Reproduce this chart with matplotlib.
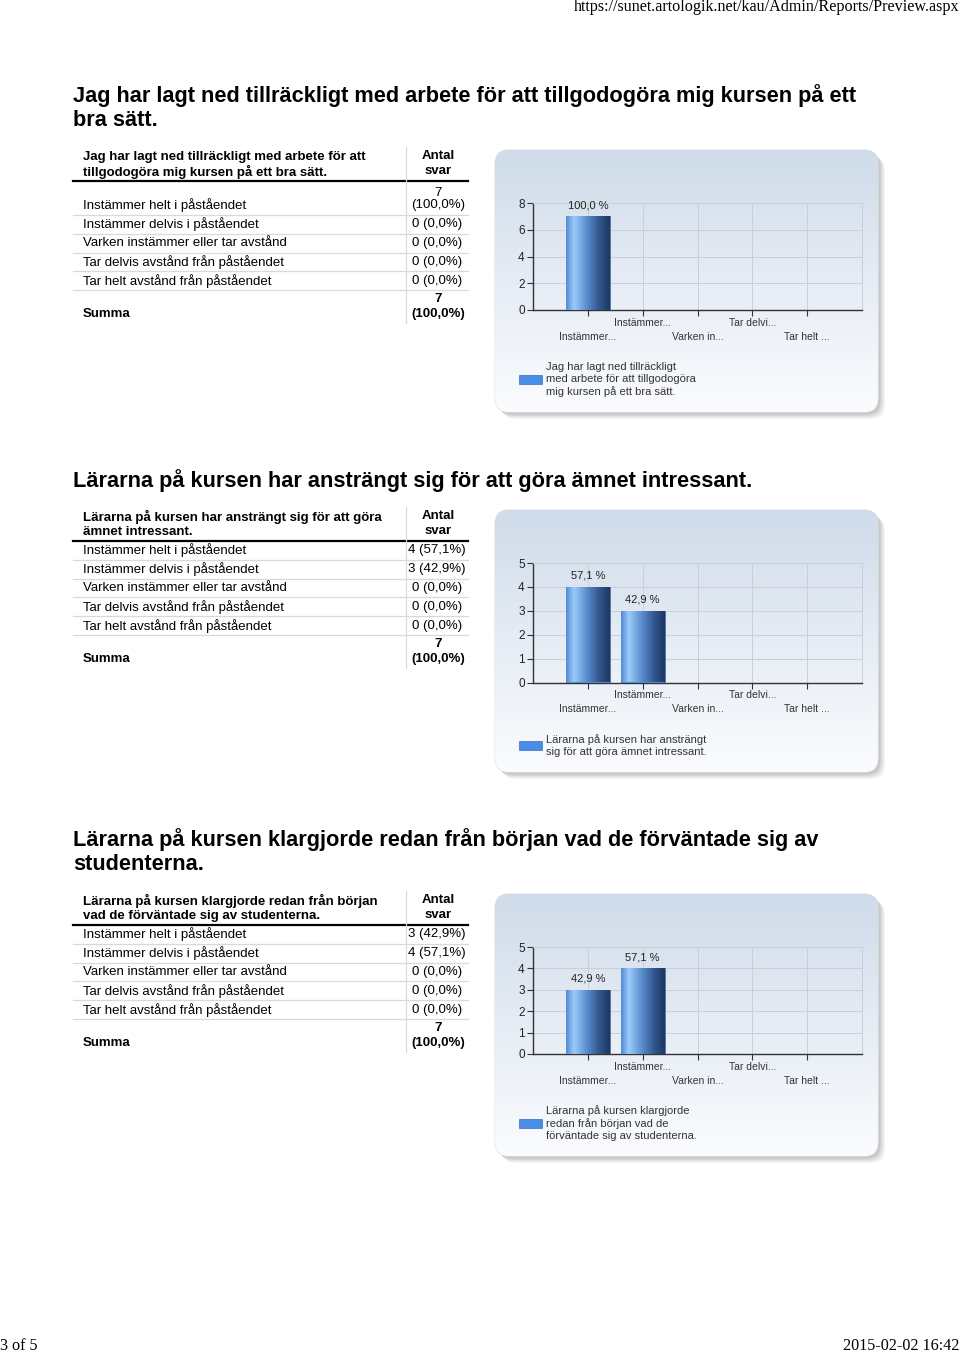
import numpy as np
import matplotlib
matplotlib.use("Agg")
import matplotlib.pyplot as plt
from matplotlib.patches import FancyBboxPatch, Rectangle
from matplotlib.colors import LinearSegmentedColormap

# ---------------- data ----------------
categories = ["Instämmer helt i påståendet",
              "Instämmer delvis i påståendet",
              "Varken instämmer eller tar avstånd",
              "Tar delvis avstånd från påståendet",
              "Tar helt avstånd från påståendet"]
short_labels = ["Instämmer...", "Instämmer...", "Varken in...", "Tar delvi...", "Tar helt ..."]

q1_title = ["Jag har lagt ned tillräckligt med arbete för att tillgodogöra mig kursen på ett",
            "bra sätt."]
q1_header = ["Jag har lagt ned tillräckligt med arbete för att",
             "tillgodogöra mig kursen på ett bra sätt."]
q1_legend = ["Jag har lagt ned tillräckligt", "med arbete för att tillgodogöra",
             "mig kursen på ett bra sätt."]
q1_counts = [7, 0, 0, 0, 0]
q1_yticks = [0, 2, 4, 6, 8]

q2_title = ["Lärarna på kursen har ansträngt sig för att göra ämnet intressant."]
q2_header = ["Lärarna på kursen har ansträngt sig för att göra",
             "ämnet intressant."]
q2_legend = ["Lärarna på kursen har ansträngt", "sig för att göra ämnet intressant."]
q2_counts = [4, 3, 0, 0, 0]
q2_yticks = [0, 1, 2, 3, 4, 5]

q3_title = ["Lärarna på kursen klargjorde redan från början vad de förväntade sig av",
            "studenterna."]
q3_header = ["Lärarna på kursen klargjorde redan från början",
             "vad de förväntade sig av studenterna."]
q3_legend = ["Lärarna på kursen klargjorde", "redan från början vad de",
             "förväntade sig av studenterna."]
q3_counts = [3, 4, 0, 0, 0]
q3_yticks = [0, 1, 2, 3, 4, 5]

col_header = ["Antal", "svar"]
summa_label = "Summa"
url_text = "https://sunet.artologik.net/kau/Admin/Reports/Preview.aspx"
page_text = "3 of 5"
date_text = "2015-02-02 16:42"

# ---------------- figure ----------------
W, H = 960, 1354
fig = plt.figure(figsize=(W / 100, H / 100), dpi=100)
bg = fig.add_axes([0, 0, 1, 1], zorder=0)
bg.set_xlim(0, W)
bg.set_ylim(H, 0)
bg.axis("off")

SANS = "Liberation Sans"
SERIF = "Liberation Serif"
TFS = 9.5  # table font size

bar_cmap = LinearSegmentedColormap.from_list(
    "bar", [(0.0, "#4f8ad8"), (0.18, "#9ccbf8"), (0.45, "#5f92d2"),
            (0.75, "#33578f"), (1.0, "#1d3761")])
box_cmap = LinearSegmentedColormap.from_list(
    "box", [(0.0, "#cfdbe9"), (0.55, "#e8eef6"), (1.0, "#fbfcfe")])


def fmt_pct(c, total):
    return f"{100.0 * c / total:.1f}".replace(".", ",")


def draw_box(x0, y0, x1, y1):
    # soft shadow
    for i, a in enumerate([0.10, 0.12, 0.16, 0.2]):
        off = 7 - i * 1.5
        sh = FancyBboxPatch((x0 + off, y0 + off), x1 - x0, y1 - y0,
                            boxstyle="round,pad=0,rounding_size=14",
                            fc="#8c8c8c", ec="none", alpha=a, zorder=1)
        bg.add_patch(sh)
    patch = FancyBboxPatch((x0, y0), x1 - x0, y1 - y0,
                           boxstyle="round,pad=0,rounding_size=14",
                           fc="white", ec="#dde2e8", lw=0.8, zorder=2)
    bg.add_patch(patch)
    grad = np.linspace(0, 1, 256).reshape(-1, 1)
    im = bg.imshow(grad, cmap=box_cmap, extent=(x0, x1, y1, y0),
                   aspect="auto", zorder=2.5, interpolation="bicubic")
    im.set_clip_path(patch)
    bg.set_xlim(0, W)
    bg.set_ylim(H, 0)


def draw_section(title_lines, title_y, header_lines, counts, yticks, legend_lines):
    total = sum(counts)
    # section title
    for i, line in enumerate(title_lines):
        bg.text(73, title_y + 25 * i, line, fontsize=15.7, fontweight="bold",
                family=SANS, va="center", ha="left", color="black")
    thick_y = title_y + 25 * (len(title_lines) - 1) + 60

    # table header
    for i, line in enumerate(header_lines):
        bg.text(83, thick_y - 24 + 15 * i, line, fontsize=TFS, fontweight="bold",
                family=SANS, va="center", ha="left")
    for i, line in enumerate(col_header):
        bg.text(438, thick_y - 25 + 15 * i, line, fontsize=TFS, fontweight="bold",
                family=SANS, va="center", ha="center")
    bg.plot([73, 468], [thick_y, thick_y], color="black", lw=1.6, zorder=3)

    y = thick_y
    for cat, c in zip(categories, counts):
        pct = fmt_pct(c, total)
        if c == total:
            bg.text(83, y + 24, cat, fontsize=TFS, family=SANS, va="center")
            bg.text(438, y + 12, f"{c}", fontsize=TFS, family=SANS, va="center", ha="center")
            bg.text(438, y + 24, f"({pct}%)", fontsize=TFS, family=SANS, va="center", ha="center")
            y += 34
        else:
            bg.text(83, y + 9.5, cat, fontsize=TFS, family=SANS, va="center")
            bg.text(437, y + 9.5, f"{c} ({pct}%)", fontsize=TFS, family=SANS,
                    va="center", ha="center")
            y += 18.8
        bg.plot([73, 468], [y, y], color="#d9d9d9", lw=0.9, zorder=3)
    bg.text(83, y + 24, summa_label, fontsize=TFS, fontweight="bold", family=SANS, va="center")
    bg.text(438, y + 9, f"{total}", fontsize=TFS, fontweight="bold", family=SANS,
            va="center", ha="center")
    bg.text(438, y + 24, f"({fmt_pct(total, total)}%)", fontsize=TFS, fontweight="bold",
            family=SANS, va="center", ha="center")
    bg.plot([406, 406], [thick_y - 34, y + 33], color="#d9d9d9", lw=0.9, zorder=3)

    # chart box
    box_top = thick_y - 31
    bx0, bx1 = 495, 878
    draw_box(bx0, box_top, bx1, box_top + 262)

    leg_bottom = box_top + 242
    leg_top = leg_bottom - 12.5 * (len(legend_lines) - 1)
    ax_top = box_top + 53
    ax_bottom = leg_top - 57
    ax_l, ax_r = 533, 862
    ax = fig.add_axes([ax_l / W, 1 - ax_bottom / H, (ax_r - ax_l) / W,
                       (ax_bottom - ax_top) / H], zorder=5)
    ax.set_facecolor("none")

    x = np.arange(1, len(counts) + 1)
    bars = ax.bar(x, counts, width=0.8, color="#4f8ad8", edgecolor="#2a4673",
                  linewidth=0.4, zorder=3)
    hgrad = np.linspace(0, 1, 256).reshape(1, -1)
    for b, c in zip(bars, counts):
        if c <= 0:
            continue
        bx, bw, bh = b.get_x(), b.get_width(), b.get_height()
        im = ax.imshow(hgrad, cmap=bar_cmap, extent=(bx, bx + bw, 0, bh),
                       aspect="auto", zorder=3.5, interpolation="bicubic")
        im.set_clip_path(b)
        ax.annotate(f"{fmt_pct(c, total)} %", xy=(b.get_x() + bw / 2, bh),
                    xytext=(0, 8), textcoords="offset points", ha="center",
                    va="center", fontsize=8, family=SANS, color="#222222")

    ax.set_xlim(0, len(counts) + 1)
    ax.set_ylim(0, yticks[-1])
    ax.set_yticks(yticks)
    ax.set_yticklabels([str(t) for t in yticks], fontsize=8.5, family=SANS, color="#222222")
    ax.set_xticks(x)
    ax.set_xticklabels([])
    ax.tick_params(axis="y", length=4, width=0.8, color="#333333", pad=2)
    ax.tick_params(axis="x", length=4, width=0.8, color="#333333")
    for xi in x:
        ax.axvline(xi, color="#c9cfd8", lw=0.7, zorder=1)
    for t in yticks[1:]:
        ax.axhline(t, color="#c9cfd8", lw=0.7, zorder=1)
    for s in ["top", "right"]:
        ax.spines[s].set_color("#c9cfd8")
        ax.spines[s].set_linewidth(0.7)
    for s in ["left", "bottom"]:
        ax.spines[s].set_color("#333333")
        ax.spines[s].set_linewidth(1.0)
    for i, (xi, lab) in enumerate(zip(x, short_labels)):
        off_px = 13 if i % 2 == 1 else 27
        ax.annotate(lab, xy=(xi, 0), xycoords=("data", "axes fraction"),
                    xytext=(0, -off_px * 0.72), textcoords="offset points",
                    ha="center", va="center", fontsize=7.5, family=SANS, color="#333333")

    # legend
    mid = (leg_top + leg_bottom) / 2
    bg.add_patch(Rectangle((519, mid - 4.5), 23, 9, fc="#4a8de6", ec="#3a6fb8",
                           lw=0.5, zorder=4))
    for i, line in enumerate(legend_lines):
        bg.text(546, leg_top + 12.5 * i, line, fontsize=8, family=SANS,
                va="center", ha="left", color="#333333", zorder=4)


draw_section(q1_title, 96, q1_header, q1_counts, q1_yticks, q1_legend)
draw_section(q2_title, 481, q2_header, q2_counts, q2_yticks, q2_legend)
draw_section(q3_title, 840, q3_header, q3_counts, q3_yticks, q3_legend)

bg.text(959, 7, url_text, fontsize=11.6, family=SERIF, ha="right", va="center")
bg.text(0, 1346, page_text, fontsize=11.6, family=SERIF, ha="left", va="center")
bg.text(959, 1346, date_text, fontsize=11.6, family=SERIF, ha="right", va="center")

fig.savefig("out.png", dpi=100, facecolor="white")
